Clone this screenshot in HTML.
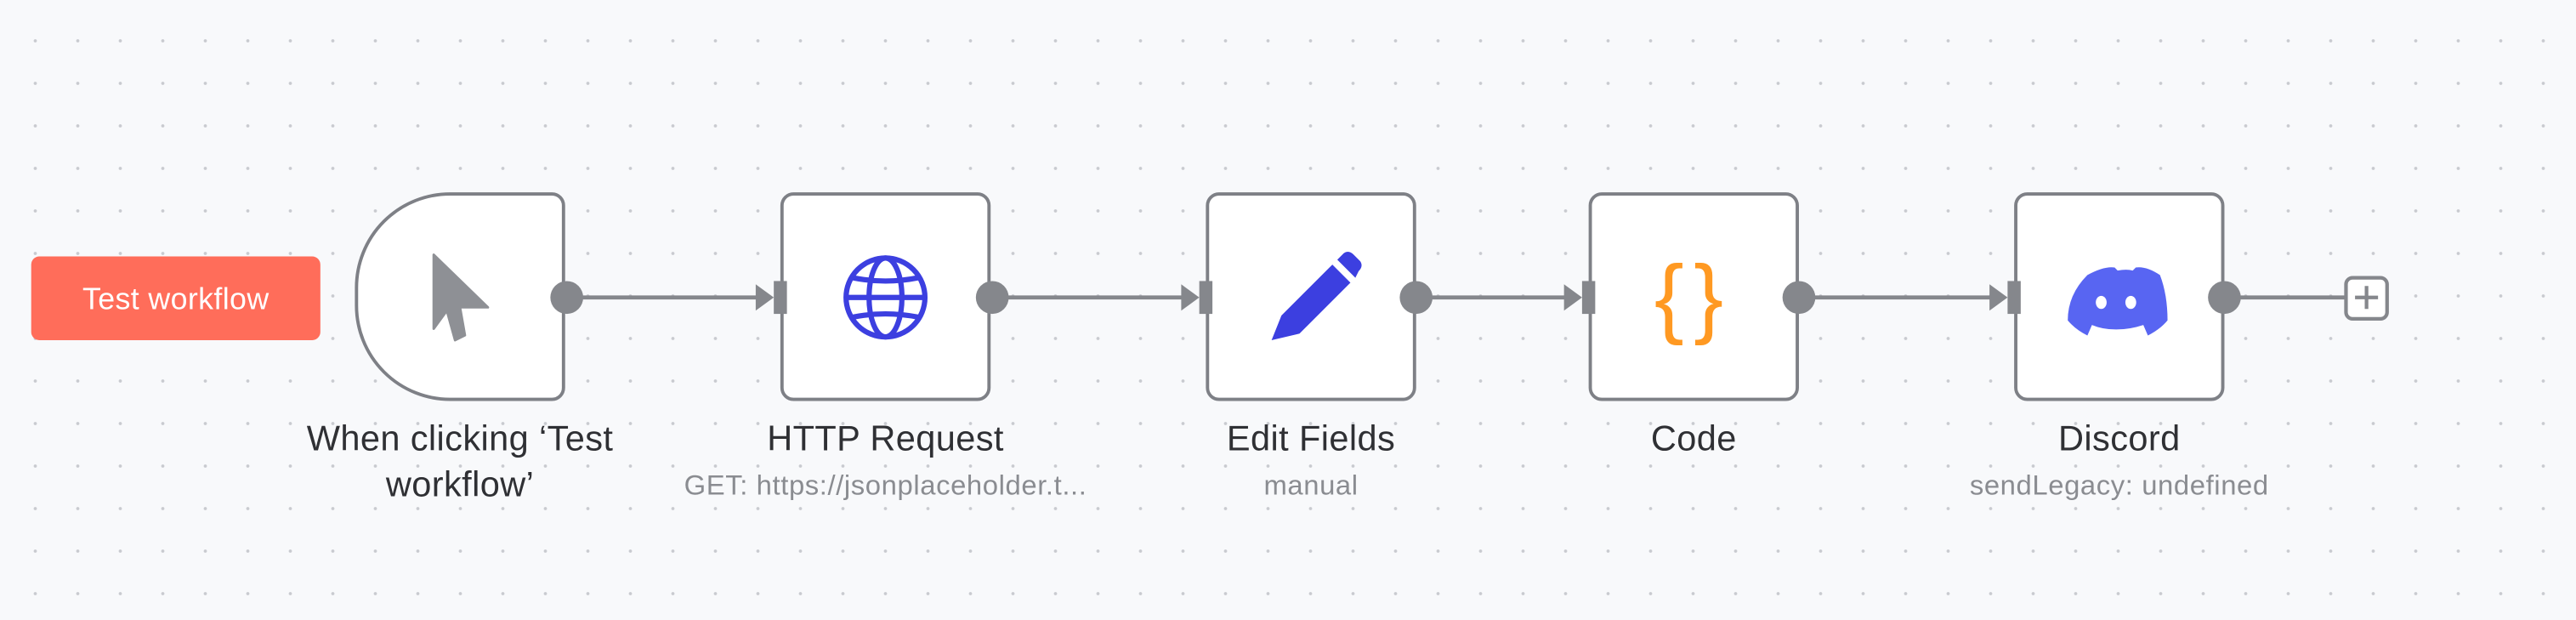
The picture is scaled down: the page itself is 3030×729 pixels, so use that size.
<!DOCTYPE html>
<html><head><meta charset="utf-8"><style>
html,body{margin:0;padding:0}
body{width:3030px;height:728px;overflow:hidden;background-color:#f8f9fb;
background-image:radial-gradient(circle at 25px 25px,#c9cbd0 1.6px,transparent 2.2px);
background-size:50px 50px;background-position:16.5px 23px;font-family:"Liberation Sans",sans-serif;position:relative}
#w{position:absolute;left:0;top:0;width:1568px;height:377px;transform:scale(1.9324);transform-origin:0 0}
.btn{position:absolute;left:19px;top:156px;width:176px;height:51px;background:#ff6d5a;border-radius:5px;color:#fff;font-size:18.5px;line-height:51px;text-align:center;letter-spacing:0.2px}
.node{position:absolute;top:117px;width:124px;height:123px;background:#fff;border:2px solid #7e8086;border-radius:8px}
.t{position:absolute;width:260px;text-align:center;color:#2f3034;font-size:21.5px;line-height:28px;letter-spacing:0.2px}
.s{position:absolute;width:320px;text-align:center;color:#8a8c91;font-size:17px;letter-spacing:0.3px}
svg.e{position:absolute;left:0;top:0}
</style></head><body><div id="w">
<div class="btn">Test workflow</div>
<div class="node" style="left:216px;border-radius:58px 8px 8px 58px"></div>
<div class="node" style="left:475px"></div>
<div class="node" style="left:734px"></div>
<div class="node" style="left:967px"></div>
<div class="node" style="left:1226px"></div>
<svg class="e" width="1568" height="377">
<g stroke="#85878c" stroke-width="2.5" fill="none">
<line x1="350" y1="181" x2="466" y2="181"/>
<line x1="608" y1="181" x2="725" y2="181"/>
<line x1="866" y1="181" x2="958" y2="181"/>
<line x1="1099" y1="181" x2="1217" y2="181"/>
<line x1="1358" y1="181" x2="1428" y2="181"/>
</g>
<g fill="#85878c">
<circle cx="345" cy="181" r="10"/><circle cx="604" cy="181" r="10"/><circle cx="862" cy="181" r="10"/><circle cx="1095" cy="181" r="10"/><circle cx="1354" cy="181" r="10"/>
<path d="M460 173 L471 181 L460 189Z"/><rect x="471" y="171" width="8" height="20"/>
<path d="M719 173 L730 181 L719 189Z"/><rect x="730" y="171" width="8" height="20"/>
<path d="M952 173 L963 181 L952 189Z"/><rect x="963" y="171" width="8" height="20"/>
<path d="M1211 173 L1222 181 L1211 189Z"/><rect x="1222" y="171" width="8" height="20"/>
</g>
<rect x="1428" y="169" width="25" height="25" rx="4" fill="#fff" stroke="#85878c" stroke-width="2.2"/>
<path d="M1440.5 174v14M1433.5 181h14" stroke="#85878c" stroke-width="2.2"/>
<path d="M264 155 L264 200 L272 189 L277 207 L283 204 L280 187 L297 187 Z" fill="#8e9095" stroke="#8e9095" stroke-width="1.5" stroke-linejoin="round"/>
<g stroke="#3c3fe0" stroke-width="3.2" fill="none">
<circle cx="539" cy="181" r="24"/><ellipse cx="539" cy="181" rx="10" ry="24"/>
<line x1="515" y1="181" x2="563" y2="181"/><path d="M519 169 Q539 173 559 169M519 193 Q539 189 559 193"/>
</g>
<g fill="#3c3fe0"><path d="M780 192 L811 161 L822 172 L791 203 L774 207 Z"/><path d="M814 158 L818 154 Q821 152 824 155 L828 159 Q830 162 827 165 L825 169 Z"/></g>
<text x="1031" y="199" text-anchor="middle" font-family="Liberation Sans,sans-serif" font-size="54" fill="#ff9922" letter-spacing="6">{}</text>
<path d="M1270 167 Q1281 161 1288 162 L1290 164 Q1296 163 1300 164 L1302 162 Q1309 161 1318 167 Q1323 180 1323 197 Q1318 203 1310 207 L1307 200 Q1298 203 1289 203 Q1280 203 1273 200 L1270 207 Q1262 203 1257 197 Q1257 180 1270 167Z" fill="#5865f2" transform="translate(1289 183) scale(0.92) translate(-1290 -184)"/>
<ellipse cx="1279" cy="184" rx="3.3" ry="4" fill="#fff"/><ellipse cx="1297" cy="184" rx="3.3" ry="4" fill="#fff"/>
</svg>
<div class="t" style="left:150px;top:253px">When clicking ‘Test<br>workflow’</div>
<div class="t" style="left:409px;top:253px">HTTP Request</div>
<div class="s" style="left:379px;top:286px">GET: https://jsonplaceholder.t...</div>
<div class="t" style="left:668px;top:253px">Edit Fields</div>
<div class="s" style="left:638px;top:286px">manual</div>
<div class="t" style="left:901px;top:253px">Code</div>
<div class="t" style="left:1160px;top:253px">Discord</div>
<div class="s" style="left:1130px;top:286px">sendLegacy: undefined</div>
</div></body></html>
